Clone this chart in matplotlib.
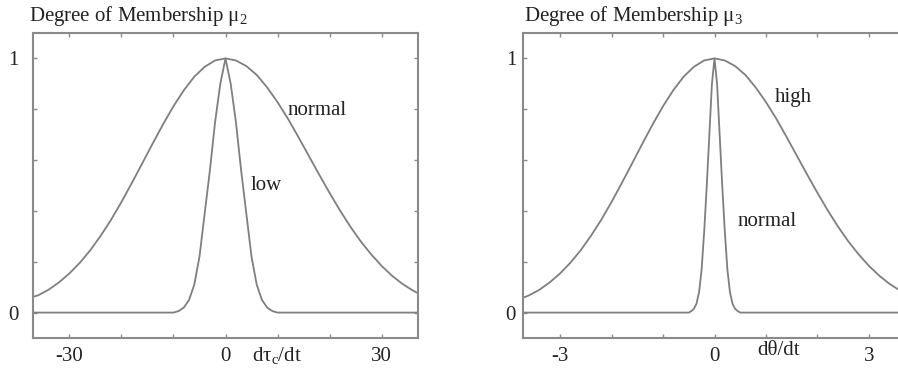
import matplotlib
matplotlib.use("Agg")
import matplotlib.pyplot as plt

plt.rcParams['font.family'] = ['Liberation Serif', 'DejaVu Serif']
plt.rcParams['mathtext.fontset'] = 'custom'
plt.rcParams['mathtext.rm'] = 'Liberation Serif'
plt.rcParams['mathtext.it'] = 'Liberation Serif:italic'

# ---- Left panel: d tau_c / dt ----
left_normal_x = [-37, -36, -34, -32, -30, -28, -26, -24, -22, -20, -18, -16, -14, -12, -10, -8, -6, -4, -2,
                 0, 2, 4, 6, 8, 10, 12, 14, 16, 18, 20, 22, 24, 26, 28, 30, 32, 34, 36, 37]
left_normal_y = [0.062, 0.068, 0.090, 0.119, 0.154, 0.196, 0.245, 0.302, 0.365, 0.435, 0.510, 0.587,
                 0.665, 0.741, 0.812, 0.875, 0.928, 0.967, 0.992,
                 1.0, 0.992, 0.970, 0.935, 0.886, 0.828, 0.763, 0.691, 0.617, 0.543, 0.471, 0.402,
                 0.338, 0.280, 0.229, 0.184, 0.145, 0.113, 0.087, 0.076]
left_low_x = [-37, -10, -9, -8, -7, -6, -5, -4, -3, -2, -1, 0, 1, 2, 3, 4, 5, 6, 7, 8, 9, 10, 37]
left_low_y = [0.0, 0.0, 0.006, 0.02, 0.05, 0.11, 0.22, 0.39, 0.56, 0.75, 0.90, 1.0,
              0.90, 0.75, 0.56, 0.39, 0.22, 0.11, 0.05, 0.02, 0.006, 0.0, 0.0]
left_xticks = [-30, -20, -10, 0, 10, 20, 30]
left_xticklabels = ['-30', '', '', '0', '', '', '30']

# ---- Right panel: d theta / dt ----
right_high_x = [-3.72, -3.6, -3.4, -3.2, -3.0, -2.8, -2.6, -2.4, -2.2, -2.0, -1.8, -1.6, -1.4, -1.2, -1.0,
                -0.8, -0.6, -0.4, -0.2, 0.0, 0.2, 0.4, 0.6, 0.8, 1.0, 1.2, 1.4, 1.6, 1.8, 2.0, 2.2, 2.4,
                2.6, 2.8, 3.0, 3.2, 3.4, 3.6, 3.72]
right_high_y = [0.058, 0.068, 0.090, 0.119, 0.154, 0.196, 0.245, 0.302, 0.365, 0.435, 0.510, 0.587,
                0.665, 0.741, 0.812, 0.875, 0.928, 0.967, 0.992,
                1.0, 0.992, 0.970, 0.935, 0.886, 0.828, 0.763, 0.691, 0.617, 0.543, 0.471, 0.402,
                0.338, 0.280, 0.229, 0.184, 0.145, 0.113, 0.087, 0.076]
right_norm_x = [-3.72, -0.5, -0.45, -0.4, -0.35, -0.3, -0.25, -0.2, -0.15, -0.1, -0.05, 0.0,
                0.05, 0.1, 0.15, 0.2, 0.25, 0.3, 0.35, 0.4, 0.45, 0.5, 3.72]
right_norm_y = [0.0, 0.0, 0.006, 0.015, 0.035, 0.08, 0.17, 0.32, 0.50, 0.70, 0.90, 1.0,
                0.90, 0.70, 0.50, 0.32, 0.17, 0.08, 0.035, 0.015, 0.006, 0.0, 0.0]
right_xticks = [-3, -2, -1, 0, 1, 2, 3]
right_xticklabels = ['-3', '', '', '0', '', '', '3']

yticks = [0, 0.2, 0.4, 0.6, 0.8, 1.0]
yticklabels = ['0', '', '', '', '', '1']

W, H = 898, 369
fig = plt.figure(figsize=(W / 100, H / 100), dpi=100)

line_c = '#7f7f7f'
spine_c = '#8a8a8a'
text_c = '#222222'
fs = 15

def px_axes(x0, x1, y0, y1):
    return fig.add_axes([x0 / W, 1 - y1 / H, (x1 - x0) / W, (y1 - y0) / H])

def style(ax, xticks, xlabels, ypad):
    for s in ax.spines.values():
        s.set_color(spine_c)
        s.set_linewidth(1.5)
    ax.set_yticks(yticks)
    ax.set_yticklabels(yticklabels)
    ax.set_xticks(xticks)
    ax.set_xticklabels(xlabels)
    ax.tick_params(direction='in', length=3, width=1, color=spine_c,
                   top=True, right=True, labelsize=fs, labelcolor=text_c)
    ax.tick_params(axis='x', pad=6.5)
    ax.tick_params(axis='y', pad=ypad)
    ax.set_ylim(-0.1, 1.1)

ax1 = px_axes(33, 418, 33, 338)
ax1.plot(left_normal_x, left_normal_y, color=line_c, lw=1.3)
ax1.plot(left_low_x, left_low_y, color=line_c, lw=1.3)
ax1.set_xlim(-37, 37)
style(ax1, left_xticks, left_xticklabels, 10.5)
ax1.text(17.7, 0.796, 'normal', fontsize=fs, color=text_c, ha='center', va='center')
ax1.text(7.9, 0.50, 'low', fontsize=fs, color=text_c, ha='center', va='center')
ax1.text(5.0, -0.192, r'dτ$_\mathrm{c}$/dt', fontsize=fs, color=text_c, ha='left', va='baseline')

ax2 = px_axes(523, 906, 33, 338)
ax2.plot(right_high_x, right_high_y, color=line_c, lw=1.3)
ax2.plot(right_norm_x, right_norm_y, color=line_c, lw=1.3)
ax2.set_xlim(-3.72, 3.72)
style(ax2, right_xticks, right_xticklabels, 5)
ax2.text(1.54, 0.847, 'high', fontsize=fs, color=text_c, ha='center', va='center')
ax2.text(1.03, 0.357, 'normal', fontsize=fs, color=text_c, ha='center', va='center')
ax2.text(0.84, -0.165, 'dθ/dt', fontsize=fs, color=text_c, ha='left', va='baseline')

fig.text(29 / W, 1 - 16 / H, r'Degree of Membership μ$_\mathrm{2}$', fontsize=fs, color=text_c,
         ha='left', va='center')
fig.text(524 / W, 1 - 16 / H, r'Degree of Membership μ$_\mathrm{3}$', fontsize=fs, color=text_c,
         ha='left', va='center')

fig.savefig('out.png', dpi=100)
